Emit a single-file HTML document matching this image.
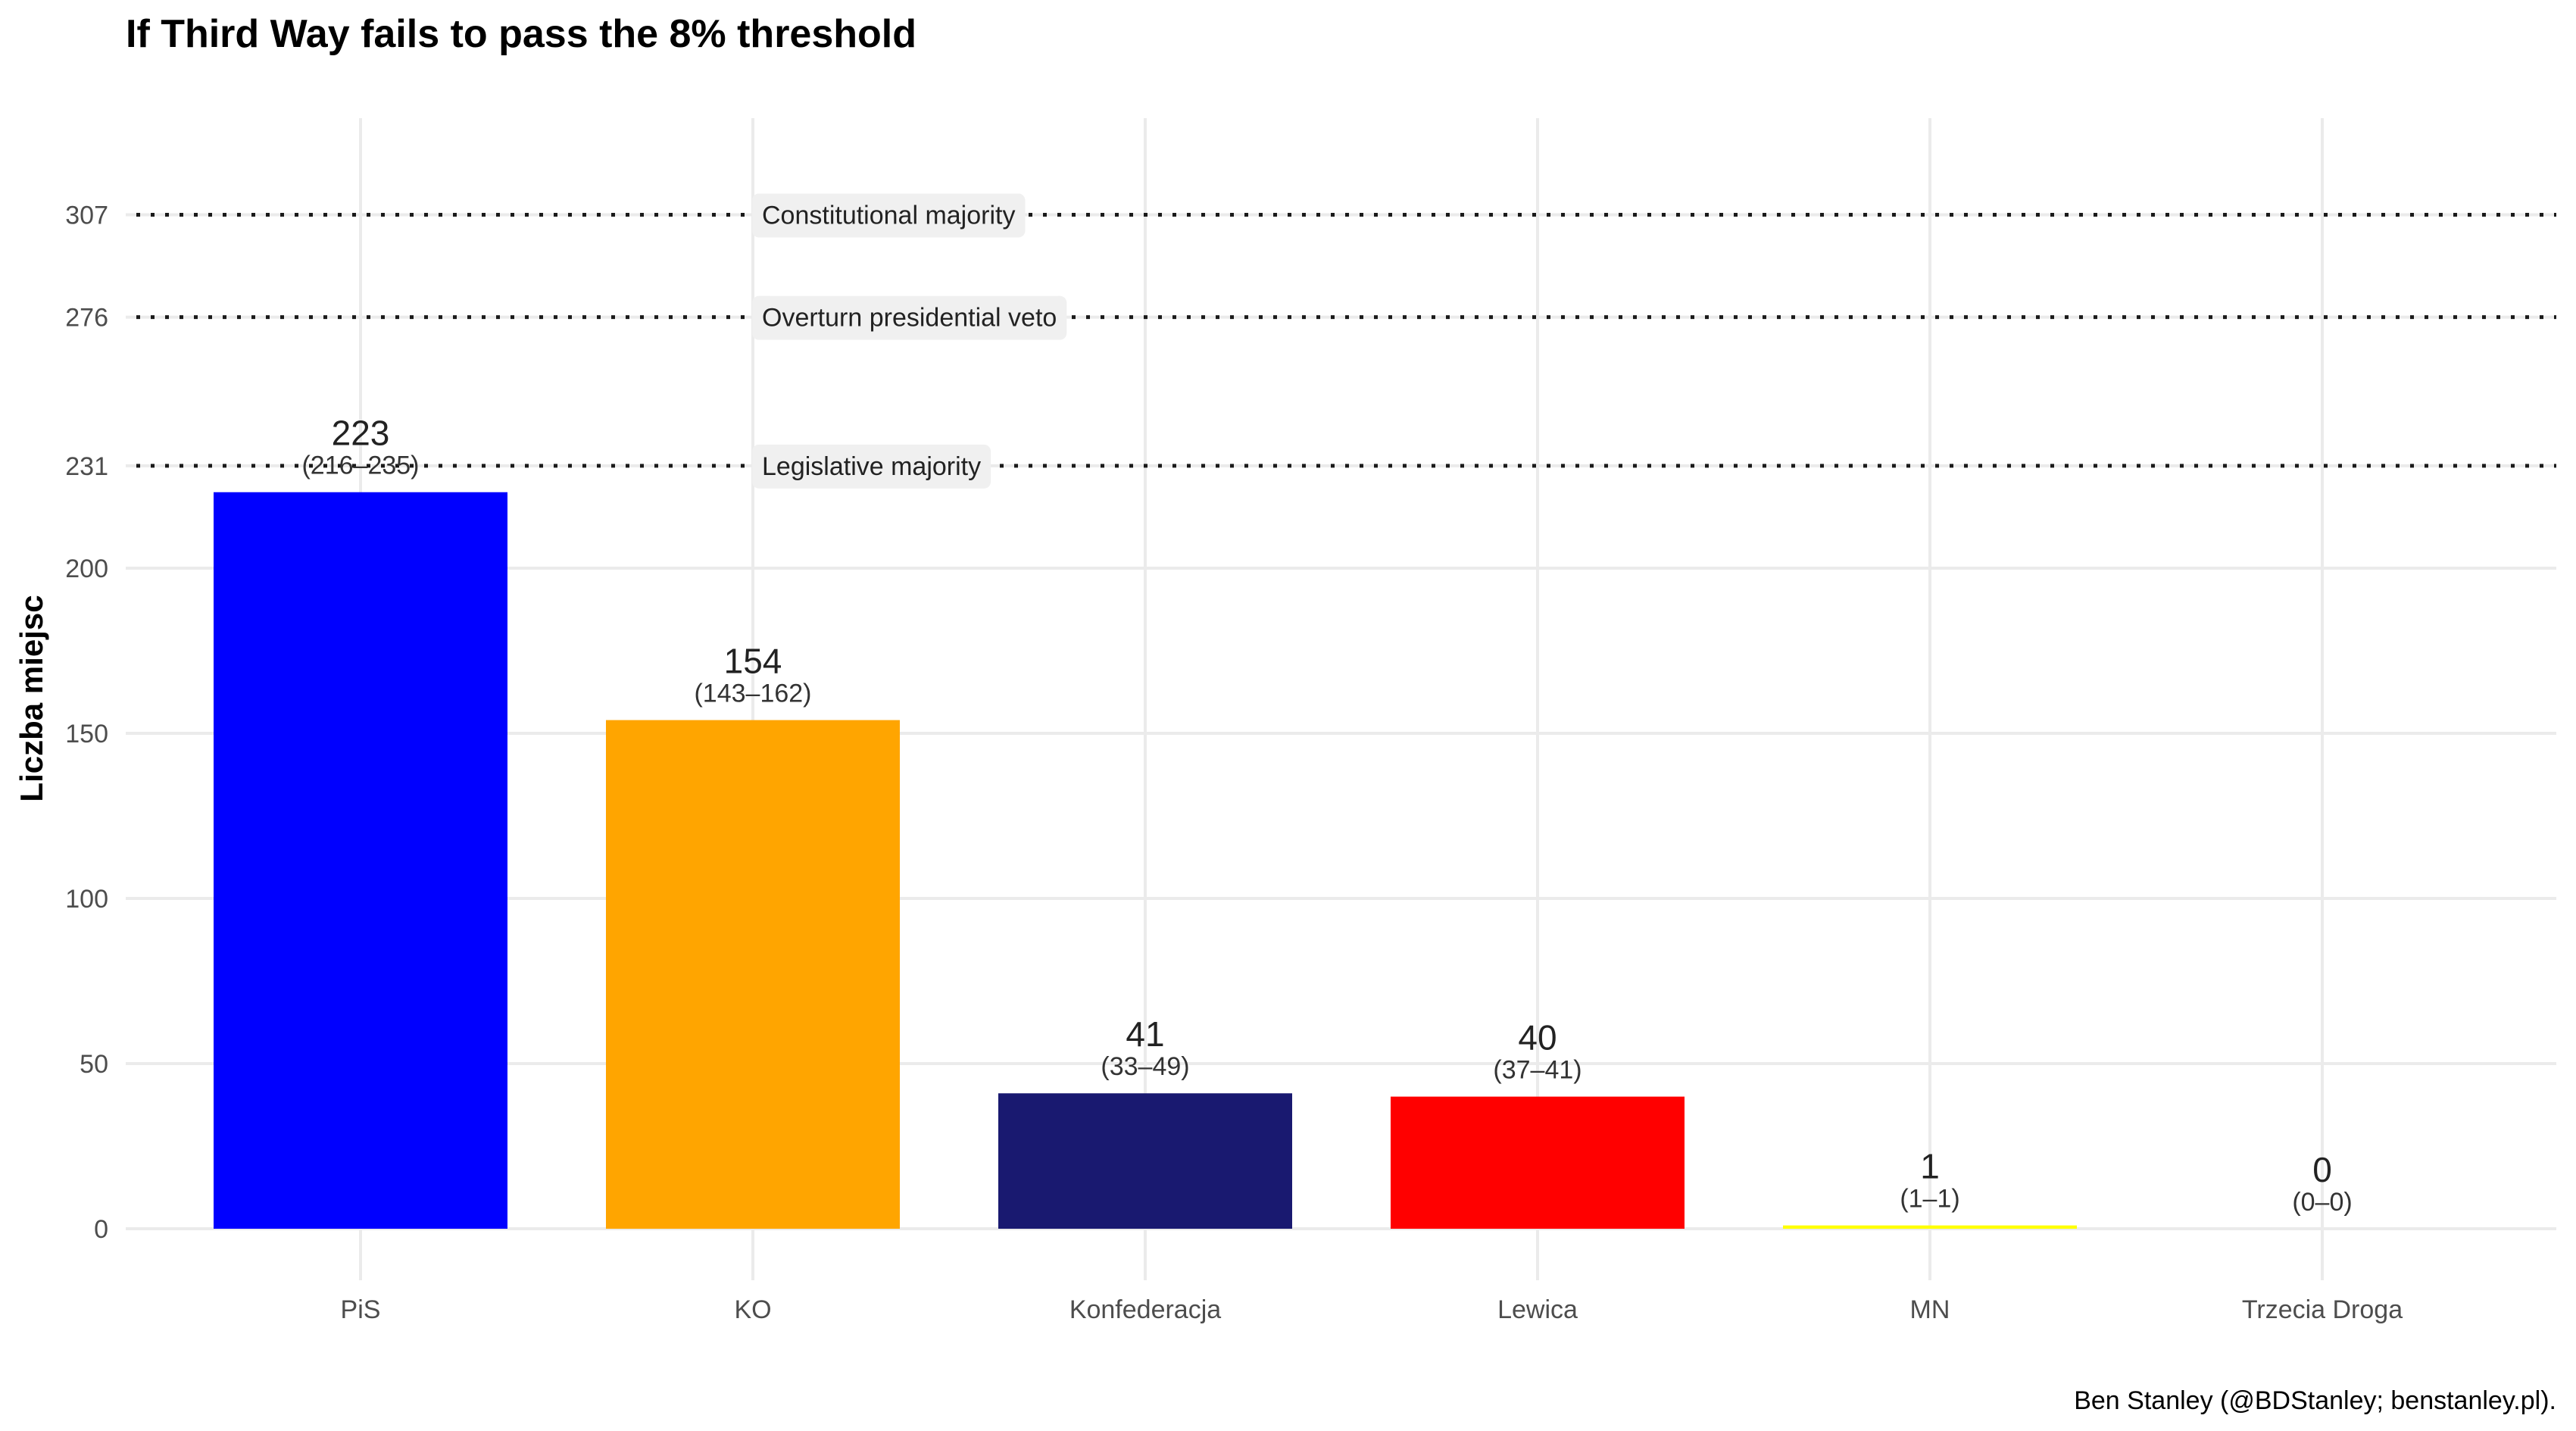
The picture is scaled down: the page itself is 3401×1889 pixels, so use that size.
<!DOCTYPE html>
<html><head><meta charset="utf-8"><style>
html,body{margin:0;padding:0;background:#fff;}
svg{display:block;font-family:"Liberation Sans Narrow","Liberation Sans",sans-serif;}
</style></head><body>
<svg id="chart" width="3401" height="1889" viewBox="0 0 3401 1889" xmlns="http://www.w3.org/2000/svg">
<text x="166" y="62" font-size="52" font-weight="bold" fill="#000">If Third Way fails to pass the 8% threshold</text>
<text transform="translate(56,922) rotate(-90)" text-anchor="middle" font-size="42" font-weight="bold" fill="#000">Liczba miejsc</text>
<text x="3375" y="1860" text-anchor="end" font-size="34" fill="#000">Ben Stanley (@BDStanley; benstanley.pl).</text>
<g id="grid"></g><g id="bars"></g><g id="lines"></g><g id="labels"></g>
</svg>
<script>
const categories = ["PiS","KO","Konfederacja","Lewica","MN","Trzecia Droga"];
const seats = [223,154,41,40,1,0];
const lower = [216,143,33,37,1,0];
const upper = [235,162,49,41,1,0];
const colors = ["#0000ff","#ffa500","#191970","#ff0000","#ffff00","#888888"];
const yTicks = [0,50,100,150,200,231,276,307];
const thresholds = [307,276,231];
const thresholdLabels = ["Constitutional majority","Overturn presidential veto","Legislative majority"];

const NS="http://www.w3.org/2000/svg";
const plotLeft=166,plotRight=3375,plotTop=156,plotBottom=1690;
const y0=1622,pxPerUnit=4.36;
const x0=476,step=518,barW=388;
function yPos(v){return y0-v*pxPerUnit;}
function xPos(i){return x0+i*step;}
function mk(tag,attrs,parent,text){const e=document.createElementNS(NS,tag);for(const k in attrs)e.setAttribute(k,attrs[k]);if(text!==undefined)e.textContent=text;parent.appendChild(e);return e;}
const grid=document.getElementById('grid'),bars=document.getElementById('bars'),lines=document.getElementById('lines'),labels=document.getElementById('labels');
yTicks.forEach(t=>{
  const g=mk('line',{x1:plotLeft,x2:plotRight,y1:yPos(t),y2:yPos(t),stroke:'#ebebeb','stroke-width':4},grid);
  
  
  const tl=mk('text',{x:143,y:yPos(t)+12,'text-anchor':'end','font-size':34,fill:'#4d4d4d'},labels,String(t));
  
  
});
categories.forEach((c,i)=>{
  const g=mk('line',{x1:xPos(i),x2:xPos(i),y1:plotTop,y2:plotBottom,stroke:'#ebebeb','stroke-width':4},grid);
  
  
  const h=Math.max(seats[i]*pxPerUnit,0);
  if(seats[i]>0){
    const r=mk('rect',{x:xPos(i)-barW/2,y:yPos(seats[i]),width:barW,height:h,fill:colors[i]},bars);
    
    
  }
  const v=mk('text',{x:xPos(i),y:yPos(seats[i])-62,'text-anchor':'middle','font-size':46,fill:'#222'},labels,String(seats[i]));
  
  
  const rg=mk('text',{x:xPos(i),y:yPos(seats[i])-24,'text-anchor':'middle','font-size':34,fill:'#333'},labels,'('+lower[i]+'–'+upper[i]+')');
  
  
  const xl=mk('text',{x:xPos(i),y:1740,'text-anchor':'middle','font-size':34,fill:'#4d4d4d'},labels,c);
  
  
});
thresholds.forEach((t,i)=>{
  const l=mk('line',{x1:plotLeft+14,x2:plotRight,y1:yPos(t),y2:yPos(t),stroke:'#1a1a1a','stroke-width':5,'stroke-dasharray':'5 14'},lines);
  
  
  const txt=mk('text',{x:xPos(1)+12,y:yPos(t)+12,'font-size':34,fill:'#222'},lines,thresholdLabels[i]);
  const w=txt.getComputedTextLength();
  const b=mk('rect',{x:xPos(1)-1,y:yPos(t)-28,width:w+26,height:58,rx:9,fill:'#f0f0f0'},lines);
  lines.insertBefore(b,txt);
  
  
  
  
});
</script>
</body></html>
